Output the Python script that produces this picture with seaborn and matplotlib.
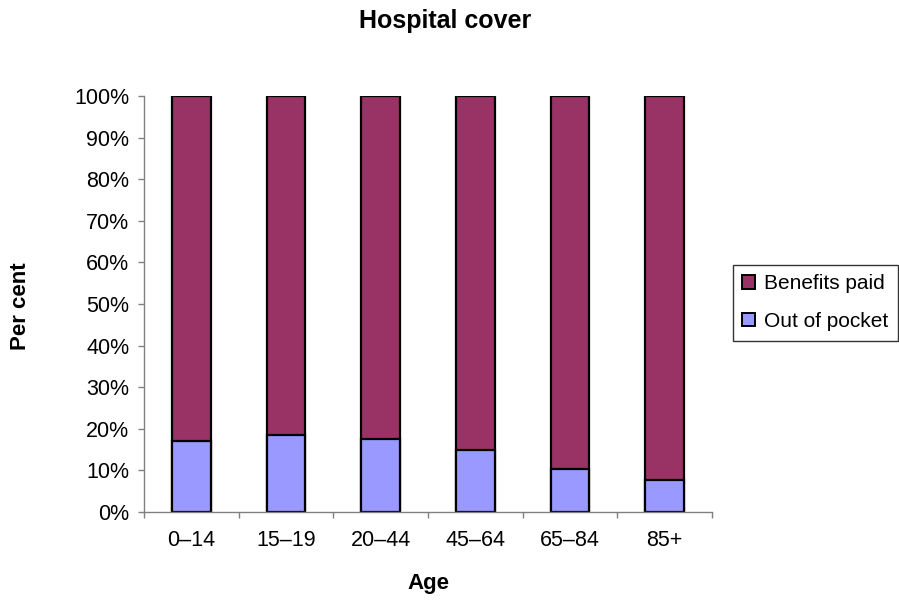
import matplotlib
matplotlib.use("Agg")
import matplotlib.pyplot as plt
import seaborn as sns
import pandas as pd
import numpy as np
from matplotlib.patches import Patch
from matplotlib.ticker import FixedLocator, PercentFormatter

ages = ["0–14", "15–19", "20–44", "45–64", "65–84", "85+"]
out_of_pocket = [17.1, 18.5, 17.6, 14.8, 10.4, 7.6]
benefits_paid = [82.9, 81.5, 82.4, 85.2, 89.6, 92.4]

c_benefits = "#993366"
c_oop = "#9999FF"
axis_col = "#808080"

sns.set_theme(style="white")
plt.rcParams["font.family"] = ["Liberation Sans", "DejaVu Sans"]
plt.rcParams["text.color"] = "black"
plt.rcParams["axes.labelcolor"] = "black"
plt.rcParams["xtick.color"] = "black"
plt.rcParams["ytick.color"] = "black"

df = pd.DataFrame({"Age": ages,
                   "oop": out_of_pocket,
                   "total": np.array(out_of_pocket) + np.array(benefits_paid)})

fig = plt.figure(figsize=(8.99, 6.01), dpi=100)
ax = fig.add_axes([144/899, 1-512/601, (712-144)/899, (512-96)/601])

sns.barplot(data=df, x="Age", y="total", order=ages, color=c_benefits,
            width=0.41, edgecolor="black", linewidth=1.6, saturation=1, ax=ax)
sns.barplot(data=df, x="Age", y="oop", order=ages, color=c_oop,
            width=0.41, edgecolor="black", linewidth=1.6, saturation=1, ax=ax)

ax.set_xlim(-0.5, len(ages) - 0.5)
ax.set_ylim(0, 100)
ax.set_yticks(np.arange(0, 101, 10))
ax.yaxis.set_major_formatter(PercentFormatter(decimals=0))
ax.xaxis.set_minor_locator(FixedLocator(np.arange(-0.5, len(ages), 1.0)))

for s in ["top", "right"]:
    ax.spines[s].set_visible(False)
for s in ["left", "bottom"]:
    ax.spines[s].set_color(axis_col)
    ax.spines[s].set_linewidth(1.0)

ax.tick_params(axis="y", which="major", direction="out", length=4.5, width=1,
               color=axis_col, labelsize=15.5, pad=6, labelcolor="black", left=True)
ax.tick_params(axis="x", which="major", length=0, labelsize=15.5, pad=13,
               labelcolor="black")
ax.tick_params(axis="x", which="minor", direction="out", length=4.5, width=1,
               color=axis_col, bottom=True)

ax.set_xlabel("Age", fontsize=16, fontweight="bold", color="black")
ax.set_ylabel("Per cent", fontsize=16, fontweight="bold", color="black")
ax.xaxis.set_label_coords(0.5, -(583-512)/416, transform=ax.transAxes)
ax.xaxis.label.set_verticalalignment("center")
ax.yaxis.set_label_coords((20-144)/568, 0.495)
ax.yaxis.label.set_verticalalignment("center")

fig.text(445/899, 1-21/601, "Hospital cover", ha="center", va="center",
         fontsize=18, fontweight="bold", color="black")

handles = [Patch(facecolor=c_benefits, edgecolor="black", linewidth=1.4, label="Benefits paid"),
           Patch(facecolor=c_oop, edgecolor="black", linewidth=1.4, label="Out of pocket")]
leg = fig.legend(handles=handles, loc="upper left",
                 bbox_to_anchor=(733/899, 1-265/601), fontsize=15,
                 frameon=True, fancybox=False, handlelength=0.6, handleheight=0.6,
                 handletextpad=0.45, borderpad=0.45, labelspacing=0.9,
                 borderaxespad=0)
for t in leg.get_texts():
    t.set_color("black")
leg.get_frame().set_edgecolor("black")
leg.get_frame().set_linewidth(1.0)

fig.savefig("out.png", dpi=100)
